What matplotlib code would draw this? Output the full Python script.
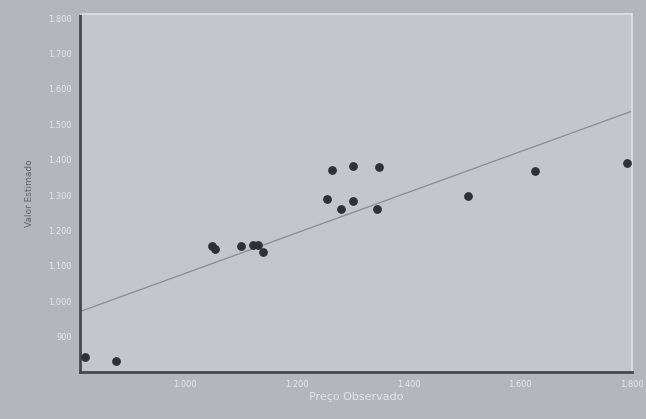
import matplotlib.pyplot as plt
from matplotlib.ticker import FuncFormatter

preco_obs = [821, 877, 1048, 1054, 1100, 1121, 1130, 1139,
             1255, 1264, 1279, 1300, 1300, 1343, 1348, 1507, 1627, 1791]
valor_est = [843, 832, 1155, 1149, 1155, 1160, 1158, 1140,
             1290, 1370, 1262, 1282, 1381, 1262, 1378, 1296, 1367, 1390]

# fitted line end points
linha_x = [812, 1800]
linha_y = [971, 1537]

x_ticks = [1000, 1200, 1400, 1600, 1800]
y_ticks = [900, 1000, 1100, 1200, 1300, 1400, 1500, 1600, 1700, 1800]


def fmt(v, pos=None):
    return '{:,.0f}'.format(v).replace(',', '.')


fig = plt.figure(figsize=(6.46, 4.19), dpi=100, facecolor='#b3b7bb')
ax = fig.add_axes([0.124, 0.112, 0.854, 0.855], facecolor='#c3c7cb')

ax.plot(linha_x, linha_y, color='#8e9296', linewidth=1)
ax.scatter(preco_obs, valor_est, s=28, color='#2e3236', zorder=3)

ax.set_xlim(812, 1800)
ax.set_ylim(800, 1812)
ax.set_xticks(x_ticks)
ax.set_yticks(y_ticks)
ax.xaxis.set_major_formatter(FuncFormatter(fmt))
ax.yaxis.set_major_formatter(FuncFormatter(fmt))
ax.tick_params(length=0, labelsize=6, colors='#e6e8ea', pad=6)

for s in ['left', 'bottom']:
    ax.spines[s].set_color('#45494d')
    ax.spines[s].set_linewidth(2)
for s in ['top', 'right']:
    ax.spines[s].set_color('#dfe2e4')
    ax.spines[s].set_linewidth(1.2)

ax.set_xlabel('Preço Observado', fontsize=8, color='#e2e4e6', labelpad=2)
ax.set_ylabel('Valor Estimado', fontsize=6.5, color='#5e6266', labelpad=10)

fig.savefig('out.png', dpi=100, facecolor=fig.get_facecolor())
